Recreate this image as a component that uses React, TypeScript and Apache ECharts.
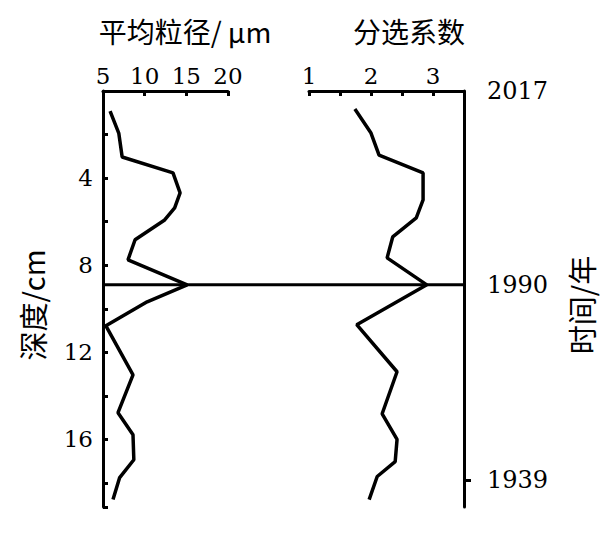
import { useEffect, useRef } from 'react';
import * as echarts from 'echarts';

// 平均粒径 (μm) 与深度 (cm)
const grainDepth = [0.92, 1.95, 3.03, 3.76, 4.68, 5.37, 5.92, 6.83, 7.75, 8.9, 9.68, 10.78, 13.03, 14.77, 15.78, 16.93, 17.75, 18.76];
const grainSize = [5.85, 6.9, 7.3, 13.4, 14.25, 13.6, 12.4, 8.85, 8.0, 15.1, 10.3, 5.35, 8.6, 6.8, 8.6, 8.7, 7.0, 6.2];

// 分选系数与深度 (cm)
const sortDepth = [0.83, 1.93, 2.94, 3.76, 5.0, 5.83, 6.7, 7.66, 8.9, 10.73, 12.89, 14.82, 16.0, 17.02, 17.7, 18.76];
const sortCoef = [1.74, 2.0, 2.13, 2.84, 2.84, 2.73, 2.35, 2.26, 2.9, 1.77, 2.42, 2.18, 2.42, 2.39, 2.1, 1.97];

// 右侧时间轴：年份对应的深度
const yearDepths = [0, 8.9, 17.85];
const yearLabels = ['2017', '1990', '1939'];
const eventDepth = 8.9;

const DEPTH_MAX = 19.1;
const SERIF = 'DejaVu Serif';
const SANS = "'Noto Sans CJK SC', 'Noto Sans', sans-serif";

export default function App() {
  const chartRef = useRef<HTMLDivElement>(null);

  useEffect(() => {
    if (!chartRef.current) return;
    const chart = echarts.init(chartRef.current, null, { renderer: 'svg' });

    const axisLine = { show: true, lineStyle: { color: '#000', width: 3 } };
    const tickStyle = { color: '#000', width: 3 };

    chart.setOption({
      animation: false,
      backgroundColor: '#fff',
      grid: [
        { left: 103, top: 91, width: 125, height: 416 },
        { left: 309, top: 91, width: 155, height: 416 },
        { left: 103, top: 91, width: 361, height: 416 },
      ],
      xAxis: [
        {
          gridIndex: 0,
          type: 'value',
          position: 'top',
          min: 5,
          max: 20,
          interval: 5,
          axisLine,
          axisTick: { show: true, inside: true, length: 5, lineStyle: tickStyle },
          axisLabel: { color: '#000', fontFamily: SERIF, fontSize: 23, margin: 4 },
          splitLine: { show: false },
        },
        {
          gridIndex: 1,
          type: 'value',
          position: 'top',
          min: 1,
          max: 3.5,
          interval: 0.5,
          axisLine,
          axisTick: { show: true, inside: true, length: 5, lineStyle: tickStyle },
          axisLabel: {
            color: '#000',
            fontFamily: SERIF,
            fontSize: 23,
            margin: 4,
            formatter: (v: number) => (Number.isInteger(v) ? String(v) : ''),
          },
          splitLine: { show: false },
        },
        { gridIndex: 2, type: 'value', min: 0, max: 1, show: false },
      ],
      yAxis: [
        {
          gridIndex: 0,
          type: 'value',
          inverse: true,
          min: 0,
          max: DEPTH_MAX,
          interval: 2,
          axisLine,
          axisTick: { show: true, inside: true, length: 5, lineStyle: tickStyle },
          axisLabel: {
            color: '#000',
            fontFamily: SERIF,
            fontSize: 23,
            margin: 10,
            formatter: (v: number) => (v > 0 && v % 4 === 0 ? String(v) : ''),
          },
          splitLine: { show: false },
        },
        {
          gridIndex: 1,
          type: 'value',
          position: 'right',
          inverse: true,
          min: 0,
          max: DEPTH_MAX,
          axisLine,
          axisTick: { show: true, inside: false, length: 7, customValues: [yearDepths[2]], lineStyle: tickStyle },
          axisLabel: {
            color: '#000',
            fontFamily: SERIF,
            fontSize: 24,
            margin: 23,
            customValues: yearDepths,
            formatter: (v: number) => {
              const i = yearDepths.findIndex((d) => Math.abs(d - v) < 1e-6);
              return i >= 0 ? yearLabels[i] : '';
            },
          },
          splitLine: { show: false },
        },
        { gridIndex: 2, type: 'value', inverse: true, min: 0, max: DEPTH_MAX, show: false },
      ],
      series: [
        {
          type: 'line',
          xAxisIndex: 0,
          yAxisIndex: 0,
          symbol: 'none',
          lineStyle: { color: '#000', width: 3.5 },
          data: grainSize.map((v, i) => [v, grainDepth[i]]),
        },
        {
          type: 'line',
          xAxisIndex: 1,
          yAxisIndex: 1,
          symbol: 'none',
          lineStyle: { color: '#000', width: 3.5 },
          data: sortCoef.map((v, i) => [v, sortDepth[i]]),
        },
        {
          type: 'line',
          xAxisIndex: 2,
          yAxisIndex: 2,
          symbol: 'none',
          lineStyle: { color: '#000', width: 3 },
          data: [
            [0, eventDepth],
            [1, eventDepth],
          ],
        },
      ],
      graphic: [
        {
          type: 'text',
          x: 185,
          y: 31,
          style: { text: '平均粒径/ μm', fill: '#000', font: `28px ${SANS}`, align: 'center', verticalAlign: 'middle' },
        },
        {
          type: 'text',
          x: 409,
          y: 31,
          style: { text: '分选系数', fill: '#000', font: `28px ${SANS}`, align: 'center', verticalAlign: 'middle' },
        },
        {
          type: 'text',
          x: 32,
          y: 305,
          rotation: Math.PI / 2,
          style: { text: '深度/cm', fill: '#000', font: `29px ${SANS}`, align: 'center', verticalAlign: 'middle' },
        },
        {
          type: 'text',
          x: 581,
          y: 305,
          rotation: Math.PI / 2,
          style: { text: '时间/年', fill: '#000', font: `29px ${SANS}`, align: 'center', verticalAlign: 'middle' },
        },
      ],
    });

    return () => {
      chart.dispose();
    };
  }, []);

  return (
    <div
      ref={chartRef}
      style={{ position: 'fixed', left: 0, top: 0, width: 608, height: 537, background: '#fff' }}
    />
  );
}
